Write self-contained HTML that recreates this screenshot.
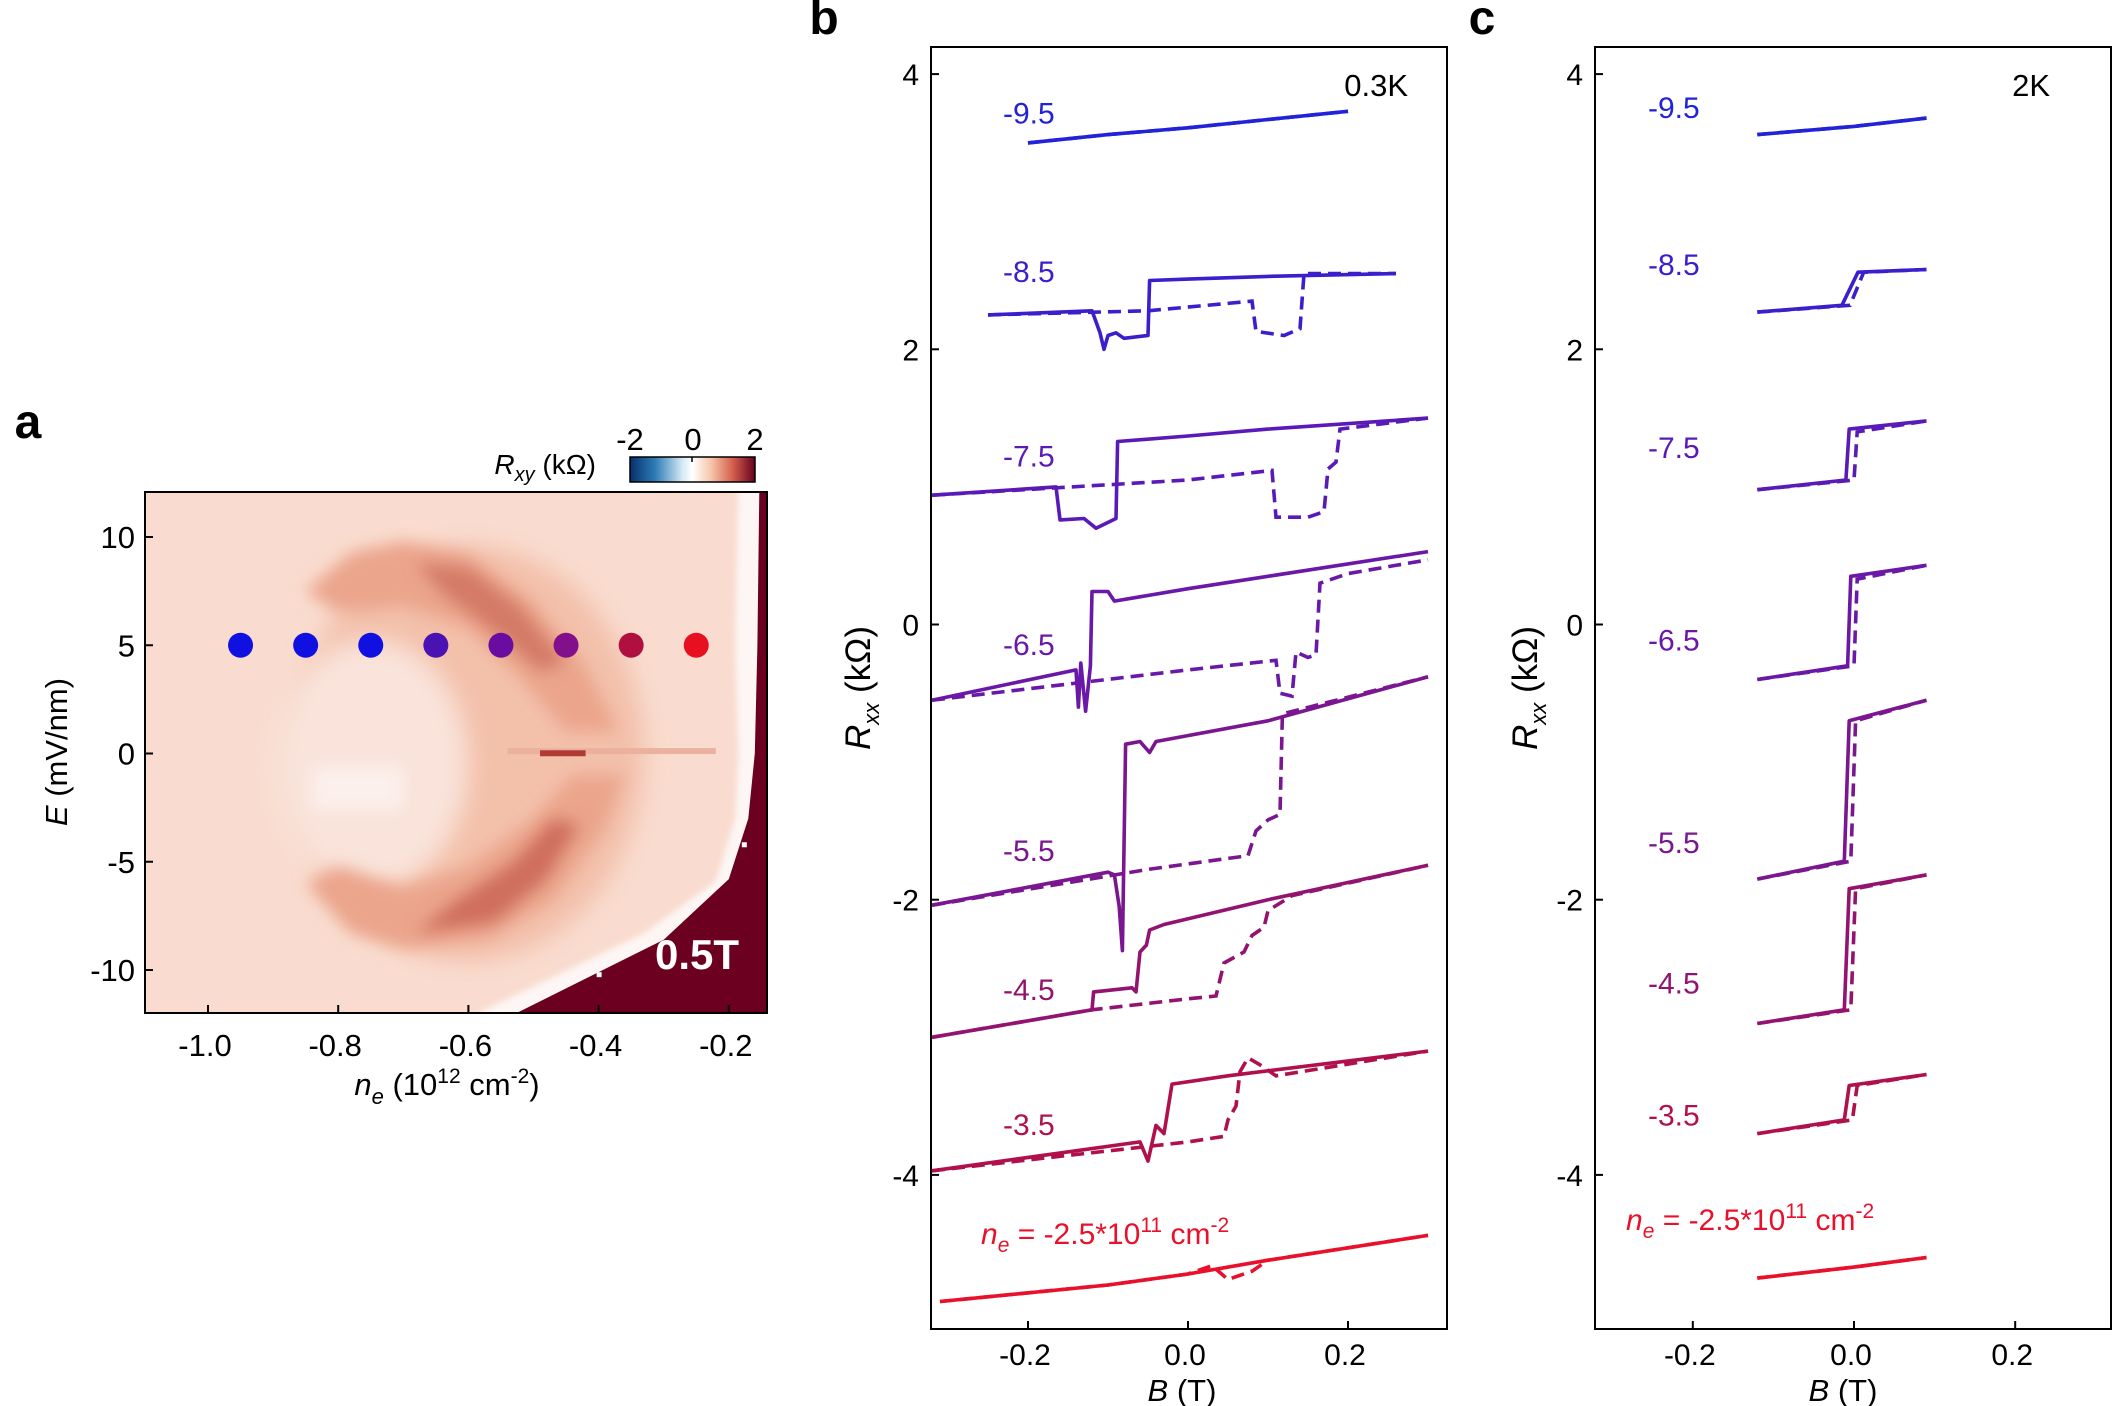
<!DOCTYPE html>
<html><head><meta charset="utf-8">
<style>
html,body{margin:0;padding:0;background:#fff;}
svg{display:block;font-family:"Liberation Sans",sans-serif;}
</style></head>
<body>
<svg id="fig" width="2125" height="1406" viewBox="0 0 2125 1406" xmlns="http://www.w3.org/2000/svg">
<defs>
<filter id="blur12" x="-30%" y="-30%" width="160%" height="160%"><feGaussianBlur stdDeviation="12"/></filter>
<filter id="blur8" x="-30%" y="-30%" width="160%" height="160%"><feGaussianBlur stdDeviation="8"/></filter>
<filter id="blur3"><feGaussianBlur stdDeviation="3"/></filter>
<clipPath id="clipA"><rect x="145" y="492" width="622" height="521"/></clipPath>
<linearGradient id="cbar" x1="0" x2="1" y1="0" y2="0">
<stop offset="0" stop-color="#08306b"/><stop offset="0.2" stop-color="#2c7bb6"/><stop offset="0.42" stop-color="#d6eaf5"/><stop offset="0.5" stop-color="#ffffff"/><stop offset="0.65" stop-color="#f6c4aa"/><stop offset="0.82" stop-color="#d6604d"/><stop offset="1" stop-color="#67001f"/>
</linearGradient>
</defs>
<g id="panelA"></g>
<g id="panelB"></g>
<g id="panelC"></g>
</svg>
<script>
// ---------- Panel a data ----------
var dotDensities = [-0.95,-0.85,-0.75,-0.65,-0.55,-0.45,-0.35,-0.25];
var dotField = [5,5,5,5,5,5,5,5];
var dotColors = ["#1010e0","#1010e0","#1010e0","#4a12b2","#6a0ca0","#82108a","#b01040","#e81020"];
var aXTicks = [-1.0,-0.8,-0.6,-0.4,-0.2];
var aYTicks = [10,5,0,-5,-10];
// ---------- Panel b/c data ----------
var curveLabels = ["-9.5","-8.5","-7.5","-6.5","-5.5","-4.5","-3.5"];
var curveColors = ["#2222d8","#3a1fcc","#5a1ab8","#6a18a8","#7a1690","#921470","#b0104c","#e8102a"];
var bLabelR = [3.72,2.57,1.23,-0.14,-1.64,-2.65,-3.63];
var cLabelR = [3.76,2.62,1.29,-0.11,-1.58,-2.6,-3.56];
var bXTicks = [-0.2,0.0,0.2];
var yTicks = [4,2,0,-2,-4];
// 0.3K solid / dashed sweeps [B, R]
var b95s = [[-0.2,3.5],[-0.1,3.56],[0,3.61],[0.1,3.67],[0.2,3.73]];
var b95d = b95s;
var b85s = [[-0.25,2.25],[-0.12,2.28],[-0.11,2.12],[-0.105,2.0],[-0.1,2.1],[-0.09,2.12],[-0.08,2.08],[-0.05,2.1],[-0.048,2.5],[0.0,2.51],[0.1,2.53],[0.26,2.55]];
var b85d = [[-0.25,2.25],[-0.05,2.28],[0.08,2.35],[0.085,2.13],[0.12,2.1],[0.14,2.15],[0.145,2.55],[0.26,2.55]];
var b75s = [[-0.32,0.94],[-0.165,1.0],[-0.16,0.76],[-0.13,0.77],[-0.115,0.7],[-0.09,0.77],[-0.088,1.33],[0.0,1.37],[0.1,1.42],[0.3,1.5]];
var b75d = [[-0.32,0.94],[0.0,1.05],[0.105,1.12],[0.11,0.78],[0.15,0.78],[0.17,0.82],[0.175,1.13],[0.185,1.18],[0.19,1.42],[0.3,1.5]];
var b65s = [[-0.32,-0.55],[-0.14,-0.33],[-0.137,-0.6],[-0.134,-0.28],[-0.128,-0.63],[-0.122,-0.3],[-0.12,0.24],[-0.1,0.24],[-0.092,0.17],[0.0,0.26],[0.1,0.35],[0.3,0.53]];
var b65d = [[-0.32,-0.55],[0.0,-0.33],[0.11,-0.26],[0.115,-0.5],[0.13,-0.52],[0.135,-0.2],[0.15,-0.24],[0.16,-0.22],[0.165,0.3],[0.2,0.37],[0.3,0.47]];
var b55s = [[-0.32,-2.04],[-0.1,-1.8],[-0.092,-1.82],[-0.086,-2.05],[-0.082,-2.37],[-0.078,-0.87],[-0.06,-0.85],[-0.048,-0.93],[-0.04,-0.85],[0.1,-0.7],[0.3,-0.38]];
var b55d = [[-0.32,-2.04],[-0.05,-1.78],[0.05,-1.7],[0.075,-1.68],[0.085,-1.5],[0.1,-1.42],[0.115,-1.38],[0.118,-0.65],[0.3,-0.38]];
var b45s = [[-0.32,-3.0],[-0.12,-2.8],[-0.118,-2.67],[-0.07,-2.64],[-0.065,-2.67],[-0.06,-2.38],[-0.052,-2.33],[-0.048,-2.22],[-0.03,-2.18],[0.1,-2.0],[0.3,-1.75]];
var b45d = [[-0.32,-3.0],[-0.12,-2.8],[0.0,-2.72],[0.035,-2.7],[0.045,-2.46],[0.07,-2.38],[0.08,-2.26],[0.095,-2.2],[0.1,-2.08],[0.13,-1.97],[0.3,-1.75]];
var b35s = [[-0.32,-3.97],[-0.06,-3.76],[-0.05,-3.9],[-0.04,-3.64],[-0.03,-3.7],[-0.02,-3.34],[0.05,-3.28],[0.3,-3.1]];
var b35d = [[-0.32,-3.97],[0.0,-3.76],[0.045,-3.72],[0.05,-3.6],[0.06,-3.5],[0.065,-3.25],[0.075,-3.15],[0.09,-3.2],[0.11,-3.28],[0.3,-3.1]];
var b25s = [[-0.31,-4.92],[-0.1,-4.8],[0.0,-4.72],[0.1,-4.62],[0.3,-4.44]];
var b25d = [[-0.31,-4.92],[-0.1,-4.8],[0.0,-4.72],[0.03,-4.66],[0.05,-4.76],[0.08,-4.7],[0.1,-4.62],[0.3,-4.44]];
// 2K sweeps
var c95s = [[-0.12,3.56],[0.0,3.62],[0.09,3.68]];
var c95d = c95s;
var c85s = [[-0.12,2.27],[-0.015,2.32],[0.005,2.56],[0.09,2.58]];
var c85d = [[-0.12,2.27],[-0.005,2.32],[0.012,2.56],[0.09,2.58]];
var c75s = [[-0.12,0.98],[-0.01,1.05],[-0.006,1.42],[0.09,1.48]];
var c75d = [[-0.12,0.98],[0.0,1.05],[0.004,1.4],[0.09,1.48]];
var c65s = [[-0.12,-0.4],[-0.008,-0.3],[-0.004,0.35],[0.09,0.43]];
var c65d = [[-0.12,-0.4],[0.0,-0.3],[0.004,0.33],[0.09,0.43]];
var c55s = [[-0.12,-1.85],[-0.012,-1.72],[-0.006,-0.7],[0.09,-0.55]];
var c55d = [[-0.12,-1.85],[-0.004,-1.72],[0.002,-0.7],[0.09,-0.55]];
var c45s = [[-0.12,-2.9],[-0.012,-2.8],[-0.006,-1.92],[0.09,-1.82]];
var c45d = [[-0.12,-2.9],[-0.004,-2.8],[0.002,-1.92],[0.09,-1.82]];
var c35s = [[-0.12,-3.7],[-0.012,-3.6],[-0.006,-3.35],[0.09,-3.27]];
var c35d = [[-0.12,-3.7],[-0.002,-3.6],[0.004,-3.35],[0.09,-3.27]];
var c25s = [[-0.12,-4.75],[0.0,-4.67],[0.09,-4.6]];
var c25d = c25s;

var NS="http://www.w3.org/2000/svg";
function mk(tag, attrs, parent){var e=document.createElementNS(NS,tag);for(var k in attrs)e.setAttribute(k,attrs[k]);parent.appendChild(e);return e;}
function txt(parent, x, y, parts, size, anchor, fill, extra){
  var t=mk('text',{x:x,y:y,'font-size':size,'text-anchor':anchor||'middle',fill:fill||'#000'},parent);
  if(extra)for(var k in extra)t.setAttribute(k,extra[k]);
  if(typeof parts==='string'){t.textContent=parts;}
  else{parts.forEach(function(p){var ts=mk('tspan',p[1]||{},t);ts.textContent=p[0];});}
  return t;
}

// ---------- Panel a ----------
(function(){
var A = document.getElementById('panelA');
var axL=145, axR=767, axT=492, axB=1013;
function ax(n){return 208 + (n + 1.0) * 651;}
function ay(e){return 753.5 - e * 21.65;}
var hm = mk('g',{'clip-path':'url(#clipA)'},A);


mk('rect',{x:axL,y:axT,width:axR-axL,height:axB-axT,fill:'#f9dccf'},hm);
function poly(pts){return pts.map(function(p){return ax(p[0]).toFixed(1)+','+ay(p[1]).toFixed(1);}).join(' ');}
mk('ellipse',{cx:ax(-0.6),cy:ay(0),rx:0.27*651,ry:9.6*21.65,fill:'#f3c0aa',filter:'url(#blur12)'},hm);
mk('ellipse',{cx:ax(-0.75),cy:ay(-0.5),rx:0.15*651,ry:5.8*21.65,fill:'#f9e3da',filter:'url(#blur12)'},hm);
mk('rect',{x:ax(-0.84),y:ay(-0.6),width:0.14*651,height:2*21.65,fill:'#fcf0ec',filter:'url(#blur8)'},hm);
mk('polygon',{points:poly([[-0.85,7.5],[-0.78,9.3],[-0.7,9.8],[-0.6,9.2],[-0.5,7],[-0.42,4],[-0.37,1],[-0.45,1],[-0.52,3.5],[-0.6,5.8],[-0.7,6.8],[-0.8,6.5]]),fill:'#eba58c',filter:'url(#blur8)'},hm);
mk('polygon',{points:poly([[-0.68,8.8],[-0.6,8.6],[-0.52,6.8],[-0.45,4.2],[-0.49,3.8],[-0.56,5.6],[-0.64,7.4]]),fill:'#d47a66',filter:'url(#blur8)'},hm);
mk('polygon',{points:poly([[-0.85,-6],[-0.78,-8.3],[-0.7,-9.0],[-0.57,-8.6],[-0.47,-6.8],[-0.39,-3.5],[-0.36,-1],[-0.44,-1],[-0.5,-3],[-0.6,-5.2],[-0.7,-6.2],[-0.8,-5.2]]),fill:'#eba58c',filter:'url(#blur8)'},hm);
mk('polygon',{points:poly([[-0.68,-8.3],[-0.56,-7.8],[-0.48,-5.8],[-0.43,-3.3],[-0.47,-3],[-0.53,-5],[-0.62,-6.8]]),fill:'#cf6e5c',filter:'url(#blur8)'},hm);
mk('rect',{x:ax(-0.54),y:ay(0.25),width:ax(-0.22)-ax(-0.54),height:6,fill:'#eab19f'},hm);
mk('rect',{x:ax(-0.49),y:ay(0.15),width:ax(-0.42)-ax(-0.49),height:6,fill:'#b03a34'},hm);
mk('polygon',{points:poly([[-0.62,-12.5],[-0.33,-8.3],[-0.22,-5.9],[-0.19,-3],[-0.185,0],[-0.19,5],[-0.185,12.5],[-0.13,12.5],[-0.13,-12.5]]),fill:'#fdf6f4',filter:'url(#blur3)'},hm);
var dark = mk('polygon',{points:poly([[-0.56,-12.5],[-0.3,-8.6],[-0.2,-5.8],[-0.17,-3],[-0.16,0],[-0.156,5],[-0.153,12.5],[-0.13,12.5],[-0.13,-12.5]]),fill:'#6b0020'},hm);


mk('rect',{x:ax(-0.403),y:ay(-10.1),width:5,height:5,fill:'#fff'},hm);
mk('rect',{x:ax(-0.18),y:ay(-4.1),width:5,height:5,fill:'#fff'},hm);
dotDensities.forEach(function(n,i){
  var c = mk('circle',{cx:ax(n),cy:ay(dotField[i]),r:12.5,fill:dotColors[i]},A);
  
  
});
var t05 = txt(A,697,969,'0.5T',42,'middle','#fff',{'font-weight':'bold'});


mk('rect',{x:axL,y:axT,width:axR-axL,height:axB-axT,fill:'none',stroke:'#000','stroke-width':2},A);
aXTicks.forEach(function(v){mk('line',{x1:ax(v),x2:ax(v),y1:axB,y2:axB-8,stroke:'#000','stroke-width':2},A);
  var t=txt(A,ax(v)-3,axB+43,v.toFixed(1),31);
  
  });
aYTicks.forEach(function(v){mk('line',{x1:axL,x2:axL+8,y1:ay(v),y2:ay(v),stroke:'#000','stroke-width':2},A);
  var t=txt(A,axL-10,ay(v)+11,String(v),31,'end');
  
  });
var aXl = txt(A,447,1095,[['n',{'font-style':'italic'}],['e',{'font-size':22,dy:9,'font-style':'italic'}],[' (10',{dy:-9}],['12',{'font-size':21,dy:-12}],[' cm',{dy:12}],['-2',{'font-size':21,dy:-12}],[')',{dy:12}]],31);


var aYl = txt(A,0,0,[['E',{'font-style':'italic'}],[' (mV/nm)',{}]],31,'middle','#000',{transform:'translate(67,752) rotate(-90)'});


var cb = mk('rect',{x:630,y:457,width:125,height:25,fill:'url(#cbar)',stroke:'#000','stroke-width':1.5},A);


mk('line',{x1:692,x2:692,y1:457,y2:462,stroke:'#000','stroke-width':1.5},A);
txt(A,630,450,'-2',31);txt(A,693,450,'0',31);txt(A,755,450,'2',31);
var cbl = txt(A,596,474,[['R',{'font-style':'italic'}],['xy',{'font-size':20,dy:7,'font-style':'italic'}],[' (k\u03A9)',{dy:-7}]],28,'end');


var la = txt(A,28,438,'a',48,'middle','#000',{'font-weight':'bold'});


})();

// ---------- Panels b, c ----------
function panel(G, L, R, x0, sx, solids, dashes, labelX, labelR, tempLabel, tempX, neX, neY, letter, letterX, rLabelX, bLabelX){
  var T=47, Bm=1329;
  function px(b){return x0 + b*sx;}
  function py(r){return 624.5 - r*137.6;}
  function pathOf(s){return 'M'+s.map(function(p){return px(p[0]).toFixed(1)+','+py(p[1]).toFixed(1);}).join('L');}
  solids.forEach(function(s,i){
    var pth = mk('path',{d:pathOf(s),fill:'none',stroke:curveColors[i],'stroke-width':3.6,'stroke-linejoin':'round'},G);
    
    
    var pd = mk('path',{d:pathOf(dashes[i]),fill:'none',stroke:curveColors[i],'stroke-width':3.6,'stroke-dasharray':'13 7'},G);
    
    
  });
  curveLabels.forEach(function(s,i){
    var t=txt(G,labelX,py(labelR[i])+11,s,30,'start',curveColors[i]);
    
    
  });
  var ne = txt(G,neX,neY,[['n',{'font-style':'italic'}],['e',{'font-size':21,dy:8,'font-style':'italic'}],[' = -2.5*10',{dy:-8}],['11',{'font-size':21,dy:-12}],[' cm',{dy:12}],['-2',{'font-size':21,dy:-12}]],30,'start',curveColors[7]);
  
  
  var tl = txt(G,tempX,96,tempLabel,31,'end');
  
  
  mk('rect',{x:L,y:T,width:R-L,height:Bm-T,fill:'none',stroke:'#000','stroke-width':2},G);
  bXTicks.forEach(function(v){mk('line',{x1:px(v),x2:px(v),y1:Bm,y2:Bm-8,stroke:'#000','stroke-width':2},G);
    var t=txt(G,px(v)-3,Bm+36,v.toFixed(1),30);
    
    });
  yTicks.forEach(function(v){mk('line',{x1:L,x2:L+8,y1:py(v),y2:py(v),stroke:'#000','stroke-width':2},G);
    var t=txt(G,L-12,py(v)+11,String(v),30,'end');
    
    });
  var xl = txt(G,bLabelX,1401,[['B',{'font-style':'italic'}],[' (T)',{}]],31);
  
  
  var yl = txt(G,0,0,[['R',{'font-style':'italic'}],['xx',{'font-size':22,dy:9,'font-style':'italic'}],[' (k\u03A9)',{dy:-9}]],35,'middle','#000',{transform:'translate('+rLabelX+',688) rotate(-90)'});
  
  
  var lt = txt(G,letterX,34,letter,48,'middle','#000',{'font-weight':'bold'});
  
  
}
panel(document.getElementById('panelB'),931,1447,1188,800,
  [b95s,b85s,b75s,b65s,b55s,b45s,b35s,b25s],[b95d,b85d,b75d,b65d,b55d,b45d,b35d,b25d],
  1003,bLabelR,'0.3K',1408,981,1244,'b',824,870,1182);
panel(document.getElementById('panelC'),1595,2111,1854,806,
  [c95s,c85s,c75s,c65s,c55s,c45s,c35s,c25s],[c95d,c85d,c75d,c65d,c55d,c45d,c35d,c25d],
  1648,cLabelR,'2K',2050,1626,1230,'c',1482,1537,1843);
</script>
</body></html>
